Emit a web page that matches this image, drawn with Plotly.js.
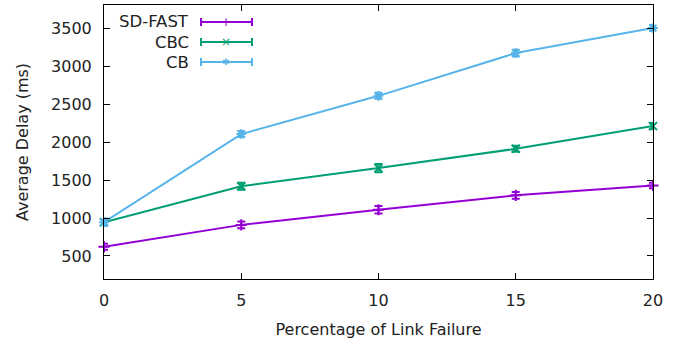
<!DOCTYPE html>
<html><head><meta charset="utf-8">
<script src="https://cdn.plot.ly/plotly-3.0.1.min.js"></script>
<style>body{margin:0;background:#fff}#c{width:693px;height:343px}</style>
</head><body><div id="c"></div>
<script>
const xs = [0, 5, 10, 15, 20];
const seriesNames = ["SD-FAST", "CBC", "CB"];
const sdfast = [620, 910, 1110, 1300, 1430];
const sdfastErr = [40, 45, 50, 45, 35];
const cbc = [945, 1420, 1660, 1915, 2215];
const cbcErr = [40, 45, 55, 40, 40];
const cb = [945, 2110, 2615, 3180, 3510];
const cbErr = [50, 40, 40, 45, 40];
const xTicks = [0, 5, 10, 15, 20];
const yTicks = [500, 1000, 1500, 2000, 2500, 3000, 3500];

const colors = ["#9400d3", "#009e73", "#56b4e9"];
const symbols = ["cross-thin-open", "x-thin-open", "asterisk-open"];
const vals = [sdfast, cbc, cb];
const errs = [sdfastErr, cbcErr, cbErr];

const traces = vals.map((v, i) => ({
  x: xs, y: v, type: "scatter", mode: "lines+markers", name: seriesNames[i],
  line: {color: colors[i], width: 2},
  marker: {symbol: symbols[i], size: 8, color: colors[i], line: {color: colors[i], width: 2}},
  error_y: {type: "data", array: errs[i], visible: true, color: colors[i], thickness: 2, width: 4},
  showlegend: false, cliponaxis: false
}));

const font = {family: "DejaVu Sans", size: 16, color: "#222"};
const shapes = [], annotations = [];
const legTop = 22, legStep = 20;
seriesNames.forEach((n, i) => {
  const y = legTop + i * legStep;
  const yp = 1 - (y - 5) / 274;
  annotations.push({xref: "paper", yref: "paper", x: (191 - 104) / 549, y: yp,
    xanchor: "right", yanchor: "middle", text: n, showarrow: false, font: {family: "DejaVu Sans", size: 16.5, color: "#222"}});
  const x0 = (201 - 104) / 549, x1 = (252 - 104) / 549, xm = (226 - 104) / 549;
  const cap = 4 / 274;
  shapes.push({type: "line", xref: "paper", yref: "paper", x0: x0, x1: x1, y0: yp, y1: yp, line: {color: colors[i], width: 2}});
  shapes.push({type: "line", xref: "paper", yref: "paper", x0: x0, x1: x0, y0: yp - cap, y1: yp + cap, line: {color: colors[i], width: 2}});
  shapes.push({type: "line", xref: "paper", yref: "paper", x0: x1, x1: x1, y0: yp - cap, y1: yp + cap, line: {color: colors[i], width: 2}});
  annotations.push({xref: "paper", yref: "paper", x: xm, y: yp, xanchor: "center", yanchor: "middle",
    text: ["+", "×", "✱"][i], showarrow: false, font: {family: "DejaVu Sans", size: [12, 12, 9][i], color: colors[i]}});
});

const layout = {
  width: 693, height: 343,
  margin: {l: 104, r: 40, t: 5, b: 64},
  paper_bgcolor: "#fff", plot_bgcolor: "#fff",
  font: font,
  xaxis: {range: [0, 20], tickvals: xTicks, ticktext: xTicks.map(String), ticks: "inside", ticklen: 6,
    tickcolor: "#000", mirror: "allticks", showline: true, linecolor: "#000", linewidth: 1,
    showgrid: false, zeroline: false, tickfont: font, ticklabelstandoff: 7,
    title: {text: "Percentage of Link Failure", font: font, standoff: 14}},
  yaxis: {range: [195, 3815], tickvals: yTicks, ticktext: yTicks.map(String), ticks: "inside", ticklen: 6,
    tickcolor: "#000", mirror: "allticks", showline: true, linecolor: "#000", linewidth: 1,
    showgrid: false, zeroline: false, tickfont: font, ticklabelstandoff: 8,
    title: {text: "Average Delay (ms)", font: font, standoff: 18}},
  shapes: shapes, annotations: annotations
};
Plotly.newPlot("c", traces, layout, {displayModeBar: false, staticPlot: true});
</script></body></html>
